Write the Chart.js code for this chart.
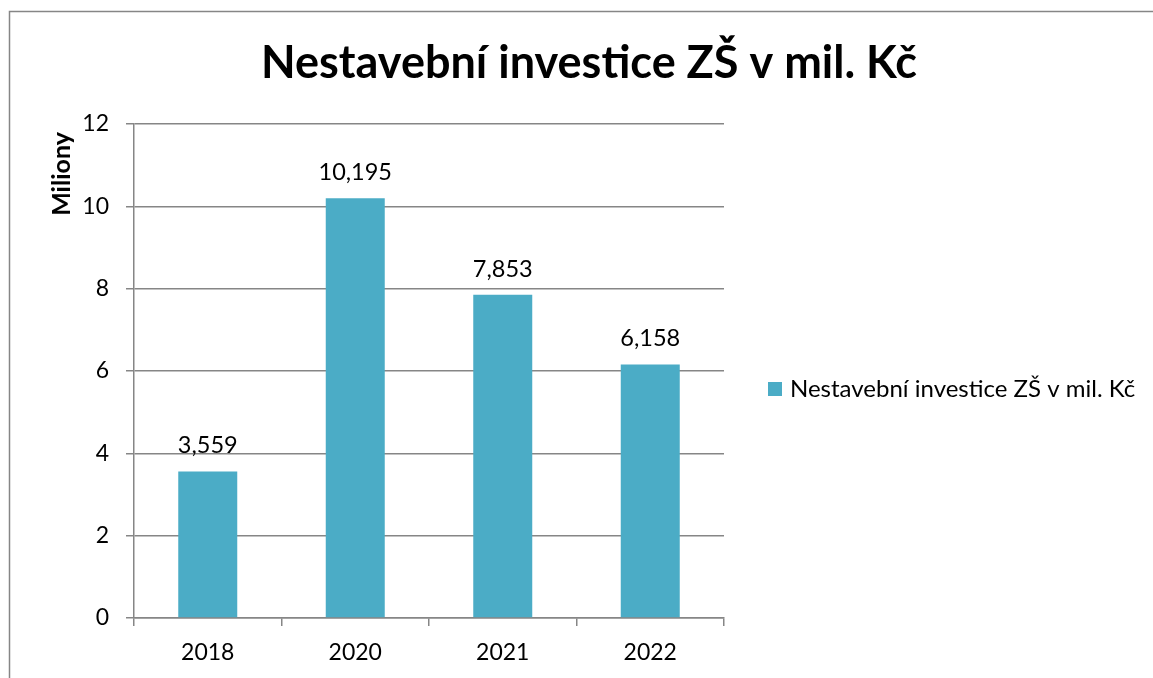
<!DOCTYPE html>
<html lang="cs">
<head>
<meta charset="utf-8">
<title>Nestavební investice ZŠ v mil. Kč</title>
<script src="https://cdn.jsdelivr.net/npm/chart.js@4"></script>
<style>
  html, body { margin: 0; padding: 0; background: #fff; }
  #wrap { width: 1153px; height: 678px; }
</style>
</head>
<body>
<div id="wrap"><canvas id="chart"></canvas></div>
<script>
// ===== data =====
const years = ['2018', '2020', '2021', '2022'];
const investice = [3.559, 10.195, 7.853, 6.158];
const seriesName = 'Nestavební investice ZŠ v mil. Kč';
const chartTitle = 'Nestavební investice ZŠ v mil. Kč';
const axisTitle = 'Miliony';
const yTicks = [0, 2, 4, 6, 8, 10, 12];

const FONT = "Lato, 'Open Sans', sans-serif";
const BAR_COLOR = '#4bacc6';
const LINE_COLOR = '#868686';

// czech decimal comma
const fmt = v => v.toFixed(3).replace('.', ',');

// frame, title, axis title, value labels, legend
const decorations = {
  id: 'decorations',
  afterDraw(chart) {
    const ctx = chart.ctx;
    ctx.save();

    // outer frame (runs off the right and bottom)
    ctx.strokeStyle = LINE_COLOR;
    ctx.lineWidth = 1.5;
    ctx.strokeRect(9.5, 11.5, 1200, 700);

    // main title
    ctx.fillStyle = '#000';
    ctx.font = 'bold 45px ' + FONT;
    ctx.textAlign = 'center';
    ctx.textBaseline = 'middle';
    ctx.fillText(chartTitle, 589, 63);

    // y axis title
    ctx.save();
    ctx.translate(62, 174);
    ctx.rotate(-Math.PI / 2);
    ctx.font = 'bold 25px ' + FONT;
    ctx.fillText(axisTitle, 0, 0);
    ctx.restore();

    // value labels above bars
    ctx.font = '23.5px ' + FONT;
    ctx.textBaseline = 'alphabetic';
    const meta = chart.getDatasetMeta(0);
    meta.data.forEach((bar, i) => {
      ctx.fillText(fmt(investice[i]), bar.x, bar.y - 18);
    });

    // legend
    const ds = chart.data.datasets[0];
    ctx.fillStyle = ds.backgroundColor;
    ctx.fillRect(768, 382, 14, 14);
    ctx.fillStyle = '#000';
    ctx.textAlign = 'left';
    ctx.textBaseline = 'middle';
    ctx.font = '24px ' + FONT;
    ctx.fillText(ds.label, 790, 389);

    ctx.restore();
  }
};

new Chart(document.getElementById('chart'), {
  type: 'bar',
  data: {
    labels: years,
    datasets: [{
      label: seriesName,
      data: investice,
      backgroundColor: BAR_COLOR,
      categoryPercentage: 0.4,
      barPercentage: 1.0
    }]
  },
  options: {
    responsive: true,
    maintainAspectRatio: false,
    animation: false,
    layout: { padding: { top: 124, right: 429, bottom: 0, left: 0 } },
    plugins: {
      legend: { display: false },
      title: { display: false },
      tooltip: { enabled: false }
    },
    scales: {
      x: {
        grid: {
          offset: true,
          drawOnChartArea: false,
          drawTicks: true,
          tickLength: 8,
          color: LINE_COLOR,
          lineWidth: 1.5
        },
        border: { color: LINE_COLOR, width: 1.5 },
        ticks: { color: '#000', font: { family: FONT, size: 23 }, padding: 13 },
        afterFit(scale) { scale.height = 60; }
      },
      y: {
        min: 0,
        max: 12,
        afterBuildTicks(scale) { scale.ticks = yTicks.map(v => ({ value: v })); },
        grid: {
          color: LINE_COLOR,
          lineWidth: 1.5,
          drawTicks: true,
          tickLength: 8
        },
        border: { color: LINE_COLOR, width: 1.5 },
        ticks: { color: '#000', font: { family: FONT, size: 23 }, padding: 17 },
        afterFit(scale) { scale.width = 134; }
      }
    }
  },
  plugins: [decorations]
});
</script>
</body>
</html>
